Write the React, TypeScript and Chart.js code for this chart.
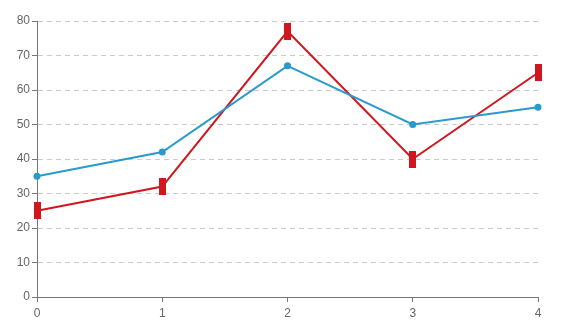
import React, { useEffect, useRef } from "react";
import { Chart, registerables } from "chart.js";

Chart.register(...registerables);

const categories = ["0", "1", "2", "3", "4"];
const blueValues = [35, 42, 67, 50, 55];
const redValues = [25, 32, 77, 40, 65];
const yMin = 0;
const yMax = 80;
const yStep = 10;

const BLUE = "#2a9acd";
const RED = "#d0161f";

function makeRectMarker(): HTMLCanvasElement {
  const c = document.createElement("canvas");
  c.width = 7;
  c.height = 17;
  const ctx = c.getContext("2d")!;
  ctx.fillStyle = RED;
  ctx.fillRect(0, 0, 7, 17);
  return c;
}

export default function App() {
  const ref = useRef<HTMLCanvasElement | null>(null);
  useEffect(() => {
    if (!ref.current) return;
    const marker = makeRectMarker();
    const font = { family: "Liberation Sans, Arial, sans-serif", size: 12 };
    const chart = new Chart(ref.current, {
      type: "line",
      data: {
        labels: categories,
        datasets: [
          {
            data: blueValues,
            borderColor: BLUE,
            backgroundColor: BLUE,
            borderWidth: 2,
            pointRadius: 3.5,
            pointBorderWidth: 0,
            pointStyle: "circle",
            tension: 0,
          },
          {
            data: redValues,
            borderColor: RED,
            backgroundColor: RED,
            borderWidth: 2,
            pointStyle: marker as any,
            pointRadius: 8,
            tension: 0,
          },
        ],
      },
      options: {
        animation: false,
        responsive: false,
        maintainAspectRatio: false,
        layout: { padding: { top: 21, right: 26, left: 0, bottom: 0 } },
        plugins: { legend: { display: false }, tooltip: { enabled: false } },
        scales: {
          x: {
            type: "category",
            offset: false,
            grid: {
              drawOnChartArea: false,
              drawTicks: true,
              tickLength: 5,
              tickColor: "#777",
              tickWidth: 1,
            },
            border: { color: "#777", width: 1 },
            ticks: { color: "#666", font, padding: 4, maxRotation: 0 },
            afterFit: (s: any) => {
              s.height = 36;
            },
          },
          y: {
            min: yMin,
            max: yMax,
            grid: {
              color: "#cccccc",
              lineWidth: 1,
              drawTicks: true,
              tickLength: 5,
              tickColor: "#777",
              tickWidth: 1,
              tickBorderDash: [],
            } as any,
            border: { color: "#777", width: 1, dash: [5, 4] } as any,
            ticks: { stepSize: yStep, color: "#666", font, padding: 2 },
            afterFit: (s: any) => {
              s.width = 37;
            },
          },
        },
      },
    });
    return () => chart.destroy();
  }, []);
  return (
    <div style={{ position: "fixed", left: 0, top: 0, width: 564, height: 333, background: "#fff" }}>
      <canvas ref={ref} width={564} height={333} style={{ width: 564, height: 333 }} />
    </div>
  );
}
